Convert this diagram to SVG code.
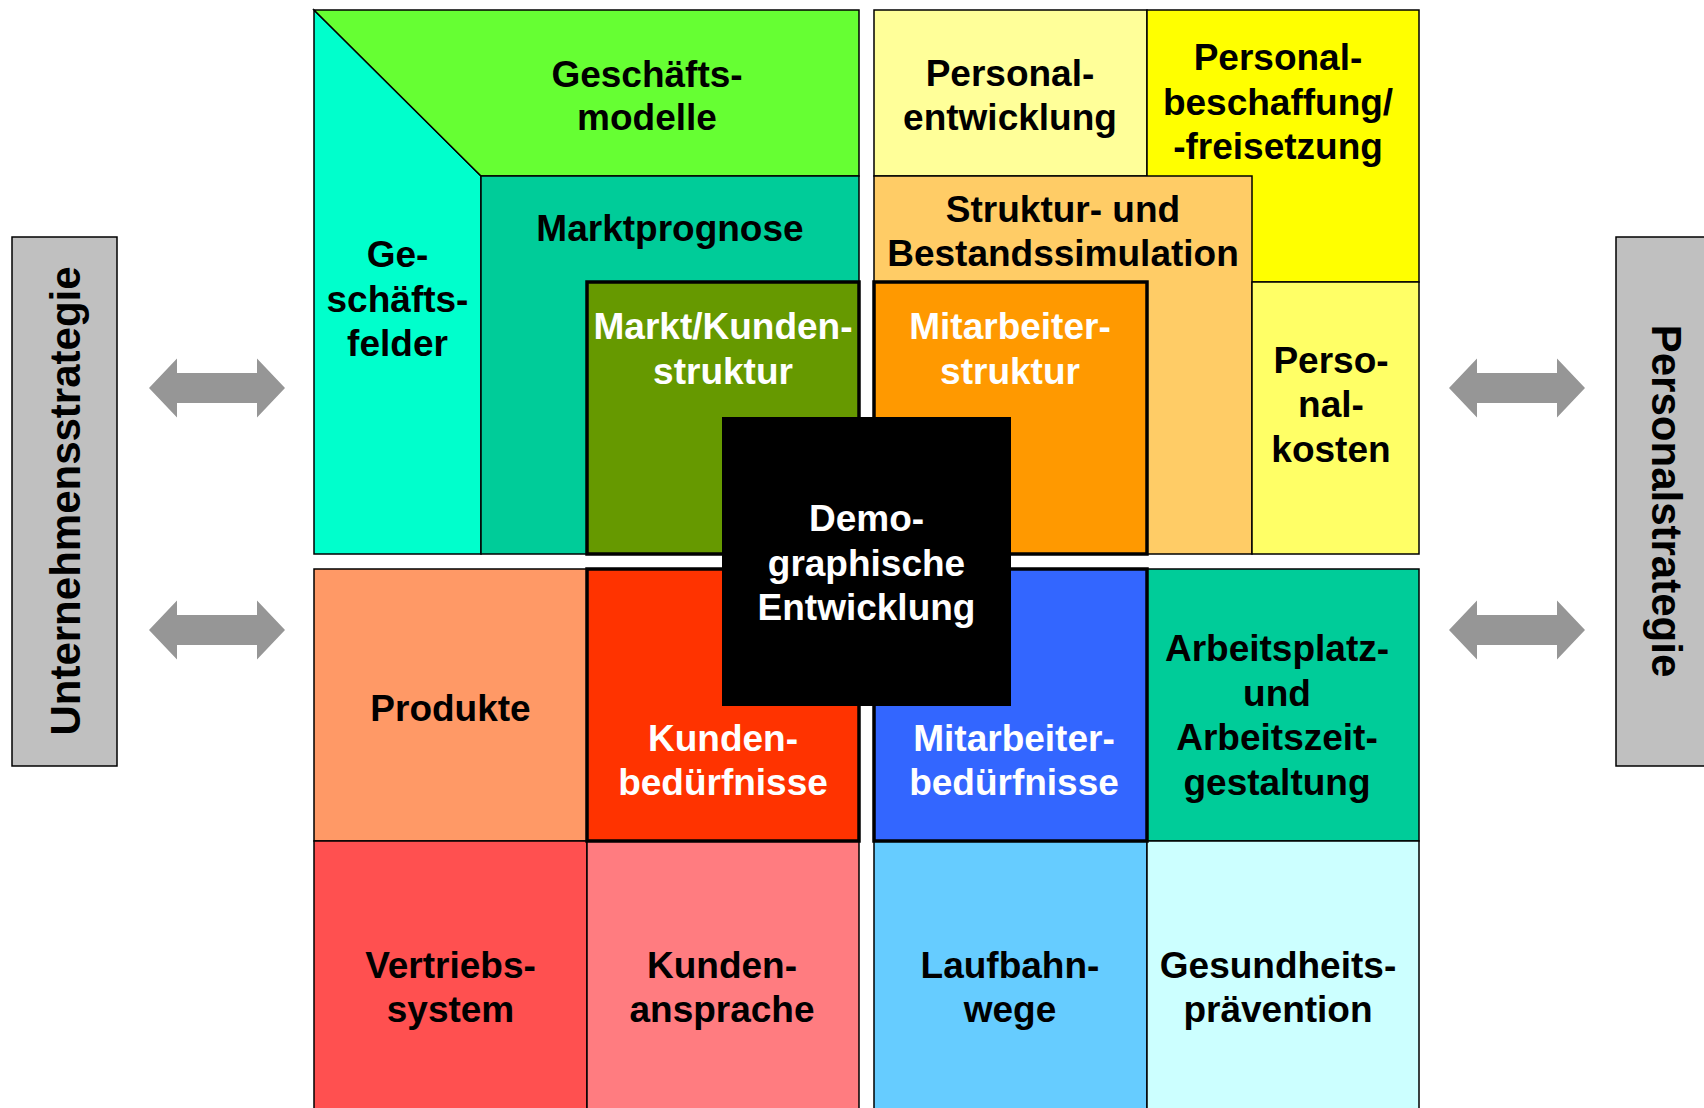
<svg xmlns="http://www.w3.org/2000/svg" width="1704" height="1108" viewBox="0 0 1704 1108">
<style>
.b{stroke:#000;stroke-width:1.5}
.k{stroke:#000;stroke-width:3.5}
.t{font-family:"Liberation Sans",Arial,Helvetica,sans-serif;font-weight:bold;font-size:37px;text-anchor:middle;fill:#000}
.w{fill:#fff}
.s{font-family:"Liberation Sans",Arial,Helvetica,sans-serif;font-weight:bold;font-size:42px;text-anchor:middle;fill:#000}
.ar{fill:#969696}
</style>
<rect width="1704" height="1108" fill="#fff"/>

<g id="unternehmensstrategie">
<rect class="b" x="12" y="237" width="105" height="529" fill="#c0c0c0"/>
<text class="s" transform="translate(80,501) rotate(-90)">Unternehmensstrategie</text>
</g>
<g id="personalstrategie">
<rect class="b" x="1616" y="237" width="100" height="529" fill="#c0c0c0"/>
<text class="s" transform="translate(1652,501) rotate(90)">Personalstrategie</text>
</g>

<g id="connectors">
<path class="ar" d="M149,388 L177,358.5 L177,373 L257,373 L257,358.5 L285,388 L257,417.5 L257,403 L177,403 L177,417.5 Z"/>
<path class="ar" d="M149,630 L177,600.5 L177,615 L257,615 L257,600.5 L285,630 L257,659.5 L257,645 L177,645 L177,659.5 Z"/>
<path class="ar" d="M1449,388 L1477,358.5 L1477,373 L1557,373 L1557,358.5 L1585,388 L1557,417.5 L1557,403 L1477,403 L1477,417.5 Z"/>
<path class="ar" d="M1449,630 L1477,600.5 L1477,615 L1557,615 L1557,600.5 L1585,630 L1557,659.5 L1557,645 L1477,645 L1477,659.5 Z"/>
</g>

<g id="geschaeftsfelder">
<polygon class="b" points="314,10 481,176 481,554 314,554" fill="#00ffcc"/>
<text class="t"><tspan x="397.5" y="267">Ge-</tspan><tspan x="397.5" y="312">schäfts-</tspan><tspan x="397.5" y="356">felder</tspan></text>
</g>
<g id="geschaeftsmodelle">
<polygon class="b" points="314,10 859,10 859,176 481,176" fill="#66ff33"/>
<text class="t"><tspan x="647" y="86.5">Geschäfts-</tspan><tspan x="647" y="130">modelle</tspan></text>
</g>
<g id="marktprognose">
<rect class="b" x="481" y="176" width="378" height="378" fill="#00cc99"/>
<text class="t" x="670" y="240.5">Marktprognose</text>
</g>
<g id="marktkundenstruktur">
<rect class="k" x="587" y="282" width="272" height="272" fill="#669900"/>
<text class="t w"><tspan x="723" y="339">Markt/Kunden-</tspan><tspan x="723" y="383.5">struktur</tspan></text>
</g>

<g id="personalentwicklung">
<rect class="b" x="874" y="10" width="273" height="166" fill="#ffff99"/>
<text class="t"><tspan x="1010" y="86">Personal-</tspan><tspan x="1010" y="130">entwicklung</tspan></text>
</g>
<g id="personalbeschaffung">
<rect class="b" x="1147" y="10" width="272" height="272" fill="#ffff00"/>
<text class="t"><tspan x="1278" y="70">Personal-</tspan><tspan x="1278" y="114.5">beschaffung/</tspan><tspan x="1278" y="159">-freisetzung</tspan></text>
</g>
<g id="strukturbestandssimulation">
<rect class="b" x="874" y="176" width="378" height="378" fill="#ffcc66"/>
<text class="t"><tspan x="1063" y="221.5">Struktur- und</tspan><tspan x="1063" y="266">Bestandssimulation</tspan></text>
</g>
<g id="personalkosten">
<rect class="b" x="1252" y="282" width="167" height="272" fill="#ffff66"/>
<text class="t"><tspan x="1331" y="372.5">Perso-</tspan><tspan x="1331" y="417">nal-</tspan><tspan x="1331" y="462">kosten</tspan></text>
</g>
<g id="mitarbeiterstruktur">
<rect class="k" x="874" y="282" width="273" height="272" fill="#ff9900"/>
<text class="t w"><tspan x="1010" y="339">Mitarbeiter-</tspan><tspan x="1010" y="383.5">struktur</tspan></text>
</g>

<g id="produkte">
<rect class="b" x="314" y="569" width="273" height="272" fill="#ff9966"/>
<text class="t" x="450.5" y="720.5">Produkte</text>
</g>
<g id="vertriebssystem">
<rect class="b" x="314" y="841" width="273" height="280" fill="#ff5050"/>
<text class="t"><tspan x="450.5" y="978">Vertriebs-</tspan><tspan x="450.5" y="1022">system</tspan></text>
</g>
<g id="kundenansprache">
<rect class="b" x="587" y="841" width="272" height="280" fill="#ff7c80"/>
<text class="t"><tspan x="722" y="978">Kunden-</tspan><tspan x="722" y="1022">ansprache</tspan></text>
</g>
<g id="kundenbeduerfnisse">
<rect class="k" x="587" y="569" width="272" height="272" fill="#ff3300"/>
<text class="t w"><tspan x="723" y="751">Kunden-</tspan><tspan x="723" y="795">bedürfnisse</tspan></text>
</g>

<g id="arbeitsplatzgestaltung">
<rect class="b" x="1147" y="569" width="272" height="272" fill="#00cc99"/>
<text class="t"><tspan x="1277" y="661">Arbeitsplatz-</tspan><tspan x="1277" y="705.5">und</tspan><tspan x="1277" y="750">Arbeitszeit-</tspan><tspan x="1277" y="794.5">gestaltung</tspan></text>
</g>
<g id="laufbahnwege">
<rect class="b" x="874" y="841" width="273" height="280" fill="#66ccff"/>
<text class="t"><tspan x="1010" y="978">Laufbahn-</tspan><tspan x="1010" y="1022">wege</tspan></text>
</g>
<g id="gesundheitspraevention">
<rect class="b" x="1147" y="841" width="272" height="280" fill="#ccffff"/>
<text class="t"><tspan x="1278" y="978">Gesundheits-</tspan><tspan x="1278" y="1022">prävention</tspan></text>
</g>
<g id="mitarbeiterbeduerfnisse">
<rect class="k" x="874" y="569" width="273" height="272" fill="#3366ff"/>
<text class="t w"><tspan x="1014" y="751">Mitarbeiter-</tspan><tspan x="1014" y="795">bedürfnisse</tspan></text>
</g>

<g id="demographische-entwicklung">
<rect x="722" y="417" width="289" height="289" fill="#000"/>
<text class="t w"><tspan x="866.5" y="531">Demo-</tspan><tspan x="866.5" y="575.5">graphische</tspan><tspan x="866.5" y="620">Entwicklung</tspan></text>
</g>
</svg>
